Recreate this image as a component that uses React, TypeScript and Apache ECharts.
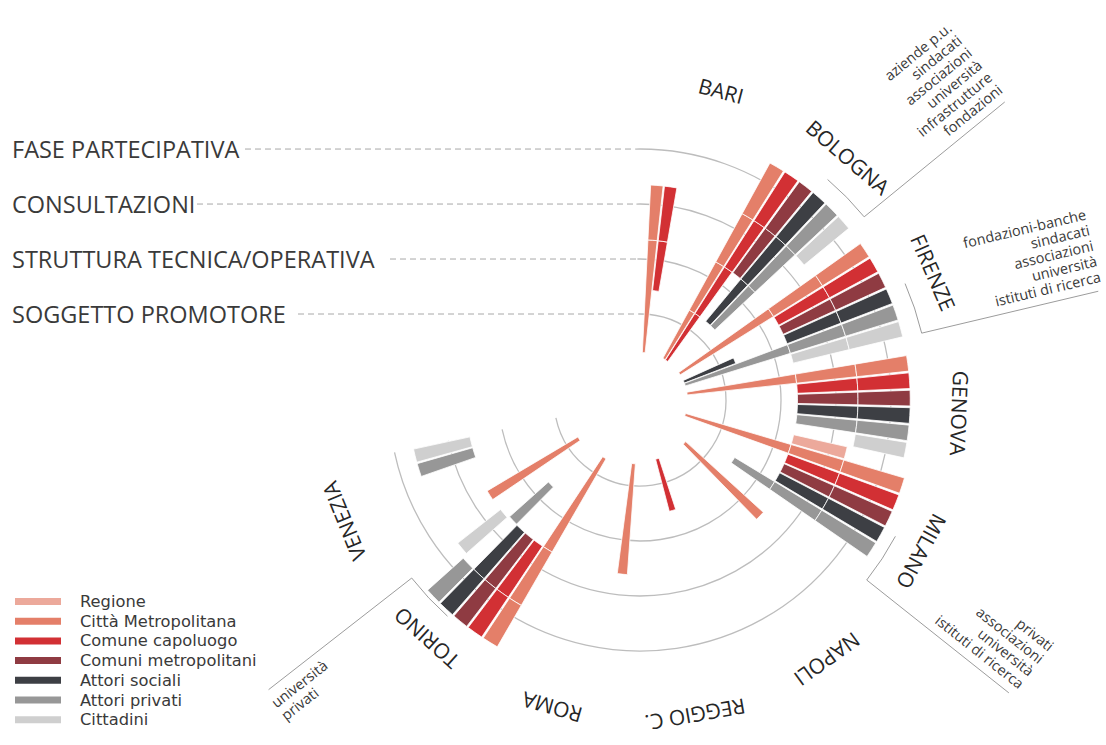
import React, { useEffect, useRef } from "react";
import * as echarts from "echarts";

// ---------- data ----------
const cities = ["BARI", "BOLOGNA", "FIRENZE", "GENOVA", "MILANO", "NAPOLI", "REGGIO C.", "ROMA", "TORINO", "VENEZIA"];
const actors = ["Regione", "Città Metropolitana", "Comune capoluogo", "Comuni metropolitani", "Attori sociali", "Attori privati", "Cittadini"];
const phases = ["SOGGETTO PROMOTORE", "STRUTTURA TECNICA/OPERATIVA", "CONSULTAZIONI", "FASE PARTECIPATIVA"];
const actorColors = ["#eca99b", "#e47f69", "#d23034", "#8f3b42", "#3d3f44", "#979797", "#cfcfcf"];

type Piece = [number, number];
// radial pieces in ring units (0 = inner rim), one list per city in the order of `cities`
const regione: Piece[][] = [[], [], [], [], [[2.3, 3.3]], [], [], [], [], []];
const cittaMetropolitana: Piece[][] = [
  [[0.3, 2.35], [2.35, 3.35]],
  [[0.3, 1.3], [1.3, 2.3], [2.3, 3.3], [3.3, 4.35]],
  [[0.3, 2.3], [2.3, 3.35], [3.35, 4.35]],
  [[0.3, 2.3], [2.3, 3.4], [3.4, 4.35]],
  [[0.3, 2.3], [2.3, 3.3], [3.3, 4.45]],
  [[0.56, 2.47]],
  [],
  [[0.6, 2.62]],
  [[0.67, 2.63], [2.63, 3.75], [3.75, 4.62]],
  [[0.75, 2.67]],
];
const comuneCapoluogo: Piece[][] = [
  [[1.44, 2.35], [2.35, 3.35]],
  [[0.3, 1.3], [1.3, 2.3], [2.3, 3.3], [3.3, 4.35]],
  [[2.3, 3.35], [3.35, 4.35]],
  [[2.3, 3.4], [3.4, 4.35]],
  [[2.3, 3.3], [3.3, 4.45]],
  [],
  [[0.55, 1.53]],
  [],
  [[2.63, 3.75], [3.75, 4.62]],
  [],
];
const comuniMetropolitani: Piece[][] = [
  [],
  [[2.3, 3.3], [3.3, 4.35]],
  [[2.3, 3.35], [3.35, 4.35]],
  [[2.3, 3.4], [3.4, 4.35]],
  [[2.3, 3.3], [3.3, 4.45]],
  [], [], [],
  [[2.63, 3.75], [3.75, 4.62]],
  [],
];
const attoriSociali: Piece[][] = [
  [],
  [[1.3, 2.3], [2.3, 3.3], [3.3, 4.35]],
  [[0.3, 1.3], [2.3, 3.35], [3.35, 4.35]],
  [[2.3, 3.4], [3.4, 4.35]],
  [[2.3, 3.3], [3.3, 4.45]],
  [], [], [],
  [[2.63, 3.75], [3.75, 4.62]],
  [],
];
const attoriPrivati: Piece[][] = [
  [],
  [[1.3, 2.3], [2.3, 3.3], [3.3, 4.35]],
  [[0.3, 2.3], [2.3, 3.35], [3.35, 4.35]],
  [[2.3, 3.4], [3.4, 4.35]],
  [[1.45, 2.3], [2.3, 3.3], [3.3, 4.45]],
  [], [], [],
  [[1.67, 2.62], [3.75, 4.62]],
  [[2.6, 3.65]],
];
const cittadini: Piece[][] = [
  [],
  [[3.3, 4.35]],
  [[2.3, 3.35], [3.35, 4.35]],
  [[3.4, 4.35]],
  [], [], [], [],
  [[2.66, 3.65]],
  [[2.6, 3.65]],
];
const actorPieces = [regione, cittaMetropolitana, comuneCapoluogo, comuniMetropolitani, attoriSociali, attoriPrivati, cittadini];

// detail notes attached to some cities
const detailCities = [1, 2, 4, 8];
const detailLabels = [
  ["aziende p.u.", "sindacati", "associazioni", "università", "infrastrutture", "fondazioni"],
  ["fondazioni-banche", "sindacati", "associazioni", "università", "istituti di ricerca"],
  ["privati", "associazioni", "università", "istituti di ricerca"],
  ["università", "privati"],
];

// ---------- layout constants ----------
const SLOT = actors.length;
const CX = 640;
const CY = 400;
const INNER_R = 31;
const OUTER_R = 306;
const RING_MAX = 5;
const START_ANGLE = 91.05;
const SPAN = 259;
const BAR_HALF = 0.45;
const LABEL_R = 5.25;
const LABEL_SHIFT = 0.75;
const LINE_FROM = 4.7;
const LINE_TO = 8.0;
const NOTE_AT = 8.1;
const FRAME_SLOTS = 2.8;
const FONT = "'Open Sans', 'Noto Sans', sans-serif";
const LEGEND_FONT = "'DejaVu Sans', 'Open Sans', sans-serif";

const ringPx = (OUTER_R - INNER_R) / RING_MAX;
const phaseLabelX = [12, 12, 12, 12];
const dashStartX = [298, 390, 197, 245];

function App() {
  const ref = useRef<HTMLDivElement>(null);
  useEffect(() => {
    if (!ref.current) return;
    const chart = echarts.init(ref.current, undefined, { renderer: "svg" });

    const sectorRender = (color: string) => (params: any, api: any) => {
      const cs = params.coordSys;
      const slot = api.value(2);
      const p0 = api.coord([api.value(0), slot - BAR_HALF]);
      const p1 = api.coord([api.value(1), slot + BAR_HALF]);
      return {
        type: "sector",
        shape: {
          cx: cs.cx,
          cy: cs.cy,
          r0: Math.hypot(p0[0] - cs.cx, p0[1] - cs.cy),
          r: Math.hypot(p1[0] - cs.cx, p1[1] - cs.cy),
          startAngle: Math.atan2(p0[1] - cs.cy, p0[0] - cs.cx),
          endAngle: Math.atan2(p1[1] - cs.cy, p1[0] - cs.cx),
          clockwise: true,
        },
        style: { fill: color, stroke: "#ffffff", lineWidth: 0.8 },
      };
    };

    const actorSeries = actors.map((name, a) => {
      const data: number[][] = [];
      actorPieces[a].forEach((pieces, c) =>
        pieces.forEach(([s, e]) => data.push([s, e, c * SLOT + a + 0.5]))
      );
      return {
        type: "custom",
        name,
        coordinateSystem: "polar",
        itemStyle: { color: actorColors[a] },
        encode: { radius: 0, angle: 2 },
        silent: true,
        data,
        renderItem: sectorRender(actorColors[a]),
      };
    });

    const labelSeries = {
      type: "custom",
      coordinateSystem: "polar",
      silent: true,
      encode: { radius: 0, angle: 1 },
      data: cities.map((_, i) => [LABEL_R, i * SLOT + SLOT / 2 + LABEL_SHIFT, i]),
      renderItem: (params: any, api: any) => {
        const cs = params.coordSys;
        const p = api.coord([api.value(0), api.value(1)]);
        const ang = Math.atan2(p[1] - cs.cy, p[0] - cs.cx);
        return {
          type: "text",
          x: p[0],
          y: p[1],
          rotation: -(ang + Math.PI / 2),
          style: {
            text: cities[api.value(2)],
            fill: "#262626",
            fontSize: 21,
            fontFamily: FONT,
            align: "center",
            verticalAlign: "middle",
          },
        };
      },
    };

    const noteSeries = {
      type: "custom",
      coordinateSystem: "polar",
      silent: true,
      encode: { radius: 0, angle: 1 },
      data: detailCities.map((c, k) => [LINE_FROM, (c + 1) * SLOT, k]),
      renderItem: (params: any, api: any) => {
        const cs = params.coordSys;
        const k = api.value(2);
        const b = api.value(1);
        const a = api.coord([LINE_FROM, b]);
        const z = api.coord([LINE_TO, b]);
        const f = api.coord([LINE_FROM, b - FRAME_SLOTS]);
        const t = api.coord([NOTE_AT, b - 0.2]);
        const ang = Math.atan2(z[1] - a[1], z[0] - a[0]);
        const inward = Math.cos(ang) < 0;
        const fr = Math.hypot(a[0] - cs.cx, a[1] - cs.cy);
        return {
          type: "group",
          children: [
            {
              type: "line",
              shape: { x1: a[0], y1: a[1], x2: z[0], y2: z[1] },
              style: { stroke: "#9c9c9c", lineWidth: 1 },
            },
            {
              type: "arc",
              shape: {
                cx: cs.cx,
                cy: cs.cy,
                r: fr,
                startAngle: Math.atan2(f[1] - cs.cy, f[0] - cs.cx),
                endAngle: Math.atan2(a[1] - cs.cy, a[0] - cs.cx),
                clockwise: true,
              },
              style: { stroke: "#9c9c9c", lineWidth: 1, fill: "none" },
            },
            {
              type: "text",
              x: t[0],
              y: t[1],
              rotation: inward ? -(ang - Math.PI) : -ang,
              style: {
                text: detailLabels[k].join("\n"),
                fill: "#3a3a3a",
                fontSize: 14.5,
                lineHeight: 16,
                fontFamily: FONT,
                align: inward ? "left" : "right",
                verticalAlign: inward ? "top" : "bottom",
              },
            },
          ],
        };
      },
    };

    const startTheta = ((90 - START_ANGLE) * Math.PI) / 180;
    const graphics: any[] = [];
    phases.forEach((p, k) => {
      const r = INNER_R + ringPx * (k + 1);
      const y = CY - r * Math.cos(startTheta);
      const xEnd = CX + r * Math.sin(startTheta);
      graphics.push({
        type: "text",
        x: phaseLabelX[k],
        y,
        style: {
          text: p,
          fill: "#3a3a3a",
          fontSize: 23.5,
          fontFamily: FONT,
          align: "left",
          verticalAlign: "middle",
        },
      });
      graphics.push({
        type: "line",
        shape: { x1: dashStartX[k], y1: y, x2: xEnd, y2: y },
        style: { stroke: "#a8a8a8", lineWidth: 1, lineDash: [6, 4] },
      });
    });

    const gridColor = "#bdbdbd";
    chart.setOption({
      animation: false,
      backgroundColor: "#ffffff",
      polar: { center: [CX, CY], radius: [INNER_R, OUTER_R] },
      angleAxis: {
        type: "value",
        min: 0,
        max: cities.length * SLOT,
        startAngle: START_ANGLE,
        endAngle: START_ANGLE - SPAN,
        clockwise: true,
        axisLine: { show: false },
        axisTick: { show: false },
        axisLabel: { show: false },
        splitLine: { show: false },
      },
      radiusAxis: {
        type: "value",
        min: 0,
        max: RING_MAX,
        interval: 1,
        axisLine: { show: false },
        axisTick: { show: false },
        axisLabel: { show: false },
        splitLine: {
          show: true,
          lineStyle: {
            color: ["rgba(0,0,0,0)", gridColor, gridColor, gridColor, gridColor, "rgba(0,0,0,0)"],
            width: 1.3,
          },
        },
      },
      legend: {
        orient: "vertical",
        left: 10,
        top: 588,
        itemWidth: 46,
        itemHeight: 7,
        itemGap: 2.7,
        icon: "rect",
        selectedMode: false,
        data: actors,
        textStyle: {
          fontSize: 16.3,
          lineHeight: 17,
          color: "#3a3a3a",
          fontFamily: LEGEND_FONT,
          padding: [0, 0, 0, 14],
        },
      },
      graphic: graphics,
      series: [...actorSeries, labelSeries, noteSeries],
    });
    return () => chart.dispose();
  }, []);
  return (
    <div
      ref={ref}
      style={{ position: "absolute", left: 0, top: 0, width: 1106, height: 745, background: "#fff" }}
    />
  );
}

export default App;
